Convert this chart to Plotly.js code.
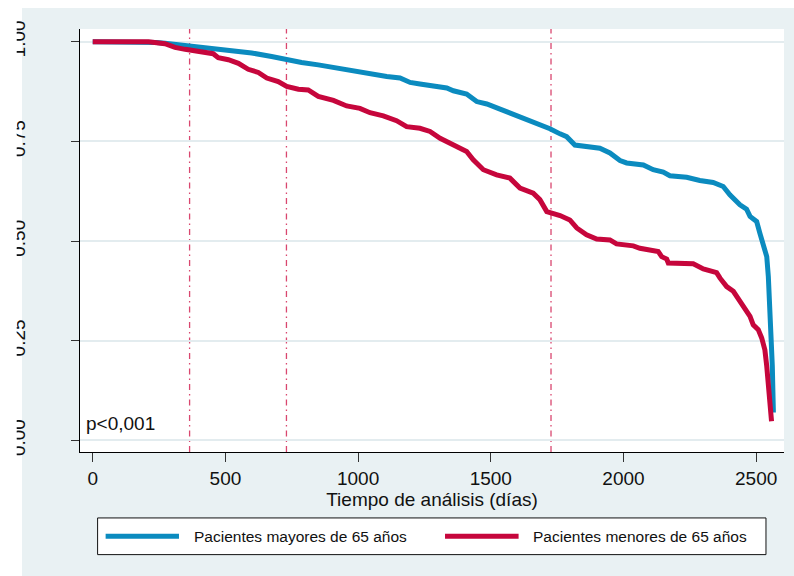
<!DOCTYPE html>
<html>
<head>
<meta charset="utf-8">
<script src="https://cdn.plot.ly/plotly-3.0.1.min.js"></script>
<style>
  html, body { margin: 0; padding: 0; background: #ffffff; }
  #chart { width: 794px; height: 576px; }
</style>
</head>
<body>
<div id="chart"></div>
<script>
// Kaplan-Meier survival estimates by age group (days of follow-up)
const seriesNames = ['Pacientes mayores de 65 años', 'Pacientes menores de 65 años'];

const daysMayores = [0, 200, 240, 272, 310, 365, 448, 536, 599, 674, 731, 787, 850, 919, 982, 1045,
  1108, 1158, 1196, 1233, 1296, 1334, 1359, 1409, 1447, 1485, 1535, 1585, 1635, 1685, 1723, 1761,
  1786, 1817, 1861, 1911, 1949, 1987, 2012, 2075, 2112, 2150, 2175, 2238, 2288, 2338, 2376, 2401,
  2439, 2464, 2477, 2502, 2514, 2527, 2540, 2546, 2552, 2556, 2561, 2565];
const survMayores = [1, 1, 0.998, 0.996, 0.993, 0.990, 0.984, 0.978, 0.972, 0.963, 0.955, 0.948,
  0.942, 0.934, 0.925, 0.920, 0.913, 0.909, 0.898, 0.894, 0.889, 0.884, 0.877, 0.869, 0.850, 0.844,
  0.831, 0.818, 0.806, 0.792, 0.782, 0.769, 0.762, 0.741, 0.737, 0.733, 0.721, 0.702, 0.696, 0.691,
  0.679, 0.673, 0.664, 0.660, 0.652, 0.647, 0.637, 0.616, 0.591, 0.580, 0.562, 0.549, 0.520, 0.495,
  0.461, 0.411, 0.336, 0.252, 0.186, 0.070];

const daysMenores = [0, 210, 272, 310, 348, 385, 423, 454, 473, 511, 549, 586, 624, 656, 699, 731,
  775, 812, 850, 907, 957, 1007, 1045, 1095, 1145, 1183, 1233, 1271, 1309, 1359, 1409, 1434, 1472,
  1522, 1572, 1610, 1660, 1685, 1711, 1761, 1798, 1824, 1861, 1899, 1949, 1974, 2037, 2062, 2100,
  2131, 2144, 2163, 2169, 2213, 2263, 2301, 2351, 2364, 2389, 2414, 2439, 2458, 2477, 2489, 2508,
  2521, 2533, 2540, 2546, 2552, 2558];
const survMenores = [1, 1, 0.995, 0.986, 0.981, 0.978, 0.973, 0.970, 0.960, 0.955, 0.946, 0.931,
  0.923, 0.909, 0.900, 0.888, 0.881, 0.879, 0.863, 0.853, 0.839, 0.833, 0.822, 0.814, 0.802, 0.787,
  0.783, 0.775, 0.758, 0.741, 0.725, 0.704, 0.679, 0.666, 0.658, 0.633, 0.620, 0.604, 0.574, 0.564,
  0.553, 0.533, 0.516, 0.505, 0.503, 0.493, 0.488, 0.482, 0.478, 0.474, 0.461, 0.455, 0.445, 0.443,
  0.443, 0.430, 0.421, 0.407, 0.386, 0.374, 0.349, 0.328, 0.311, 0.290, 0.278, 0.257, 0.227, 0.186,
  0.135, 0.094, 0.048];

// Reference times marked with vertical lines (1 year, 2 years, end of period)
const refDays = [365, 730, 1727];

const xTicks = [0, 500, 1000, 1500, 2000, 2500];
const yTicks = [0, 0.25, 0.5, 0.75, 1];
const yTickText = ['0.00', '0.25', '0.50', '0.75', '1.00'];
const pText = 'p<0,001';
const xTitle = 'Tiempo de análisis (días)';

const colors = ['#0b8bbf', '#c6063c'];
const panelGrey = '#e9f1f3';
const font = 'Liberation Sans, Arial, sans-serif';

const traces = [
  { x: daysMayores, y: survMayores, name: seriesNames[0] },
  { x: daysMenores, y: survMenores, name: seriesNames[1] }
].map((t, i) => Object.assign(t, {
  type: 'scatter', mode: 'lines',
  line: { color: colors[i], width: 5, shape: 'linear' },
  hoverinfo: 'x+y+name'
}));

const shapes = [
  // outer grey panel
  { type: 'rect', xref: 'paper', yref: 'paper', x0: -0.0824, x1: 1.02, y0: -0.30, y1: 1.0496,
    fillcolor: panelGrey, line: { width: 0 }, layer: 'below' },
  // white plotting region
  { type: 'rect', xref: 'paper', yref: 'paper', x0: 0, x1: 1, y0: 0, y1: 1,
    fillcolor: '#ffffff', line: { width: 0 }, layer: 'below' }
];

refDays.forEach(d => shapes.push({
  type: 'line', xref: 'x', yref: 'paper', x0: d, x1: d, y0: 0, y1: 1,
  line: { color: '#d9476f', width: 1.3, dash: '6px,4px,1.5px,4px' }, layer: 'below'
}));

// legend frame and keys
shapes.push({ type: 'rect', xref: 'paper', yref: 'paper', x0: 0.025, x1: 0.9744, y0: -0.1559, y1: -0.2426,
  fillcolor: '#ffffff', line: { color: '#111111', width: 1 }, layer: 'above' });
const keyX = [[0.0364, 0.1406], [0.5185, 0.6230]];
keyX.forEach((k, i) => shapes.push({
  type: 'line', xref: 'paper', yref: 'paper', x0: k[0], x1: k[1], y0: -0.1994, y1: -0.1994,
  line: { color: colors[i], width: 5 }, layer: 'above'
}));
// trims the y tick labels at the left border
shapes.push({ type: 'rect', xref: 'paper', yref: 'paper', x0: -0.2, x1: -0.0899, y0: -0.4, y1: 1.2,
  fillcolor: '#ffffff', line: { width: 0 }, layer: 'above' });

const textX = [0.1588, 0.6406];
const annotations = textX.map((x, i) => ({
  xref: 'paper', yref: 'paper', x: x, y: -0.1994, xanchor: 'left', yanchor: 'middle',
  text: seriesNames[i], showarrow: false, font: { family: font, size: 15.5, color: '#111111' }
}));
annotations.push({
  xref: 'paper', yref: 'paper', x: 0.006, y: 0.067, xanchor: 'left', yanchor: 'middle',
  text: pText, showarrow: false, font: { family: font, size: 19, color: '#111111' }
});

const layout = {
  width: 794, height: 576,
  margin: { l: 80, r: 10, t: 29, b: 124 },
  paper_bgcolor: '#ffffff',
  plot_bgcolor: 'rgba(0,0,0,0)',
  showlegend: false,
  font: { family: font, size: 19, color: '#111111' },
  xaxis: {
    range: [-48, 2605], tickvals: xTicks, ticktext: xTicks.map(String),
    showgrid: false, zeroline: false, showline: true, linecolor: '#000000', linewidth: 1,
    ticks: 'outside', ticklen: 9, tickwidth: 1, tickcolor: '#333333',
    tickfont: { family: font, size: 19, color: '#111111' },
    title: { text: xTitle, font: { family: font, size: 19, color: '#111111' }, standoff: 0 }
  },
  yaxis: {
    range: [-0.029, 1.032], tickvals: yTicks, ticktext: yTickText, tickangle: -90,
    showgrid: true, gridcolor: '#e3ecef', gridwidth: 2, zeroline: false,
    showline: true, linecolor: '#000000', linewidth: 1,
    ticks: 'outside', ticklen: 8, tickwidth: 1, tickcolor: '#333333',
    ticklabelstandoff: 38,
    tickfont: { family: font, size: 19, color: '#111111' }
  },
  shapes: shapes,
  annotations: annotations
};

Plotly.newPlot('chart', traces, layout, { displayModeBar: false, staticPlot: true });
</script>
</body>
</html>
